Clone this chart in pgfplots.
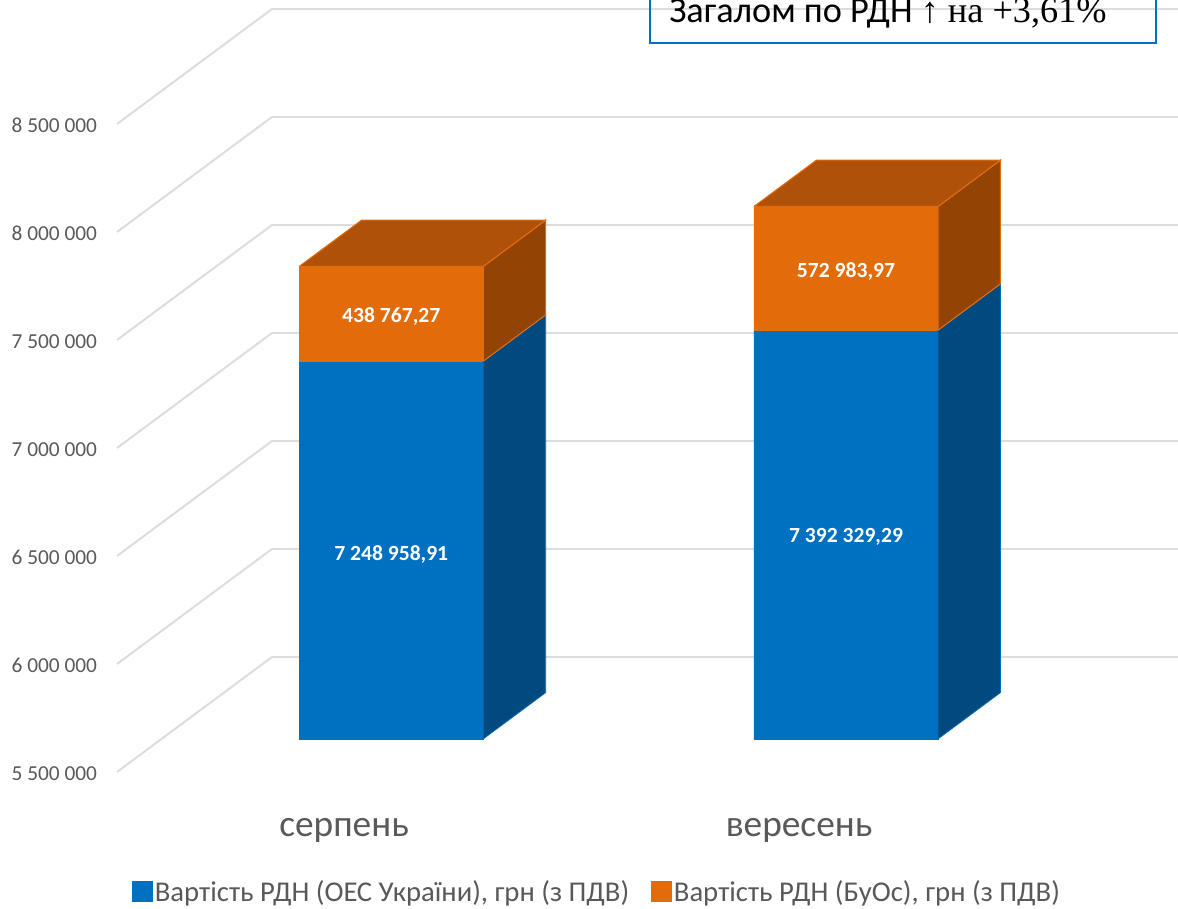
\documentclass[border=0pt]{standalone}
\usepackage{fontspec}
\setmainfont{Carlito}
\newfontfamily\timesf{Liberation Serif}
\usepackage{pgfplots}
\pgfplotsset{compat=1.18}

\definecolor{blueF}{HTML}{0070C0}
\definecolor{blueS}{HTML}{004A7F}
\definecolor{orF}{HTML}{E36C0A}
\definecolor{orT}{HTML}{AF5108}
\definecolor{orS}{HTML}{934304}
\definecolor{gridc}{HTML}{DDDDDD}
\definecolor{txt}{HTML}{595959}

\begin{document}
\begin{tikzpicture}
\path[use as bounding box] (0pt,0pt) rectangle (883.5pt,681.75pt);
% values in thousands of UAH, bars are stacked from the axis floor
\begin{axis}[
  at={(87.75pt,102.75pt)},anchor=south west,
  x={(341.25pt,0pt)},y={(116.25pt,86.25pt)},z={(0pt,0.162pt)},
  xmin=0.5,xmax=2.491,ymin=0,ymax=1,zmin=5500,zmax=8500,
  clip=false,
  axis line style={draw=none},
  major tick length=0pt,
  xtick={1,2},xticklabels={серпень,вересень},
  ytick=\empty,
  ztick={5500,6000,6500,7000,7500,8000,8500},
  zticklabels={5 500 000,6 000 000,6 500 000,7 000 000,7 500 000,8 000 000,8 500 000},
  zmajorgrids=true,
  grid style={gridc,line width=1.5pt},
  tick label style={text=txt},
  zticklabel style={font=\fontsize{16pt}{18pt}\selectfont,xshift=-11.5pt,yshift=10.5pt},
  xticklabel style={font=\fontsize{28pt}{30pt}\selectfont,xshift=6pt,yshift=-31pt},
  legend style={draw=none,fill=none,at={(0.4525,-0.157)},anchor=center,
    legend columns=2,font=\fontsize{21.5pt}{24pt}\selectfont,text=txt,
    /tikz/every even column/.style={column sep=14pt}},
  legend image code/.code={\fill[#1] (0pt,-7.5pt) rectangle (15pt,7.5pt);},
]
% left bar, front faces (legend)
\addplot3[fill=blueF,draw=blueF,line width=.5pt] coordinates {(0.8027,0.287,5500) (1.2071,0.287,5500) (1.2071,0.287,7248.95891) (0.8027,0.287,7248.95891) (0.8027,0.287,5500)};
\addlegendentry{Вартість РДН (ОЕС України), грн (з ПДВ)}
\addplot3[fill=orF,draw=orF,line width=.5pt] coordinates {(0.8027,0.287,7248.95891) (1.2071,0.287,7248.95891) (1.2071,0.287,7687.72618) (0.8027,0.287,7687.72618) (0.8027,0.287,7248.95891)};
\addlegendentry{Вартість РДН (БуОс), грн (з ПДВ)}
% left bar, sides and top
\addplot3[fill=blueS,draw=blueF,line width=.5pt,forget plot] coordinates {(1.2071,0.287,5500) (1.2071,0.69,5500) (1.2071,0.69,7248.95891) (1.2071,0.287,7248.95891) (1.2071,0.287,5500)};
\addplot3[fill=orS,draw=orF,line width=.8pt,forget plot] coordinates {(1.2071,0.287,7248.95891) (1.2071,0.69,7248.95891) (1.2071,0.69,7687.72618) (1.2071,0.287,7687.72618) (1.2071,0.287,7248.95891)};
\addplot3[fill=orT,draw=orF,line width=.8pt,forget plot] coordinates {(0.8027,0.287,7687.72618) (1.2071,0.287,7687.72618) (1.2071,0.69,7687.72618) (0.8027,0.69,7687.72618) (0.8027,0.287,7687.72618)};
% right bar
\addplot3[fill=blueF,draw=blueF,line width=.5pt,forget plot] coordinates {(1.8022,0.287,5500) (2.2066,0.287,5500) (2.2066,0.287,7392.32929) (1.8022,0.287,7392.32929) (1.8022,0.287,5500)};
\addplot3[fill=orF,draw=orF,line width=.5pt,forget plot] coordinates {(1.8022,0.287,7392.32929) (2.2066,0.287,7392.32929) (2.2066,0.287,7965.31326) (1.8022,0.287,7965.31326) (1.8022,0.287,7392.32929)};
\addplot3[fill=blueS,draw=blueF,line width=.5pt,forget plot] coordinates {(2.2066,0.287,5500) (2.2066,0.69,5500) (2.2066,0.69,7392.32929) (2.2066,0.287,7392.32929) (2.2066,0.287,5500)};
\addplot3[fill=orS,draw=orF,line width=.8pt,forget plot] coordinates {(2.2066,0.287,7392.32929) (2.2066,0.69,7392.32929) (2.2066,0.69,7965.31326) (2.2066,0.287,7965.31326) (2.2066,0.287,7392.32929)};
\addplot3[fill=orT,draw=orF,line width=.8pt,forget plot] coordinates {(1.8022,0.287,7965.31326) (2.2066,0.287,7965.31326) (2.2066,0.69,7965.31326) (1.8022,0.69,7965.31326) (1.8022,0.287,7965.31326)};
% value labels
\begin{scope}[every node/.style={text=white,font=\fontsize{16.2pt}{18pt}\selectfont\bfseries,yshift=-2pt}]
\node[yshift=-1.5pt] at (axis cs:1.0049,0.287,6374.48) {7 248 958,91};
\node at (axis cs:1.0049,0.287,7468.34) {438 767,27};
\node at (axis cs:2.0044,0.287,6446.16) {7 392 329,29};
\node at (axis cs:2.0044,0.287,7678.82) {572 983,97};
\end{scope}
\end{axis}
\draw[blueF,line width=1.1pt] (487.5pt,700pt) rectangle (867pt,649.5pt);
\node[anchor=base west,inner sep=0pt] at (501.75pt,664.5pt) {\fontsize{27.2pt}{30pt}\selectfont Загалом по РДН {\timesf ↑ на +3,61\%}};
\end{tikzpicture}
\end{document}
